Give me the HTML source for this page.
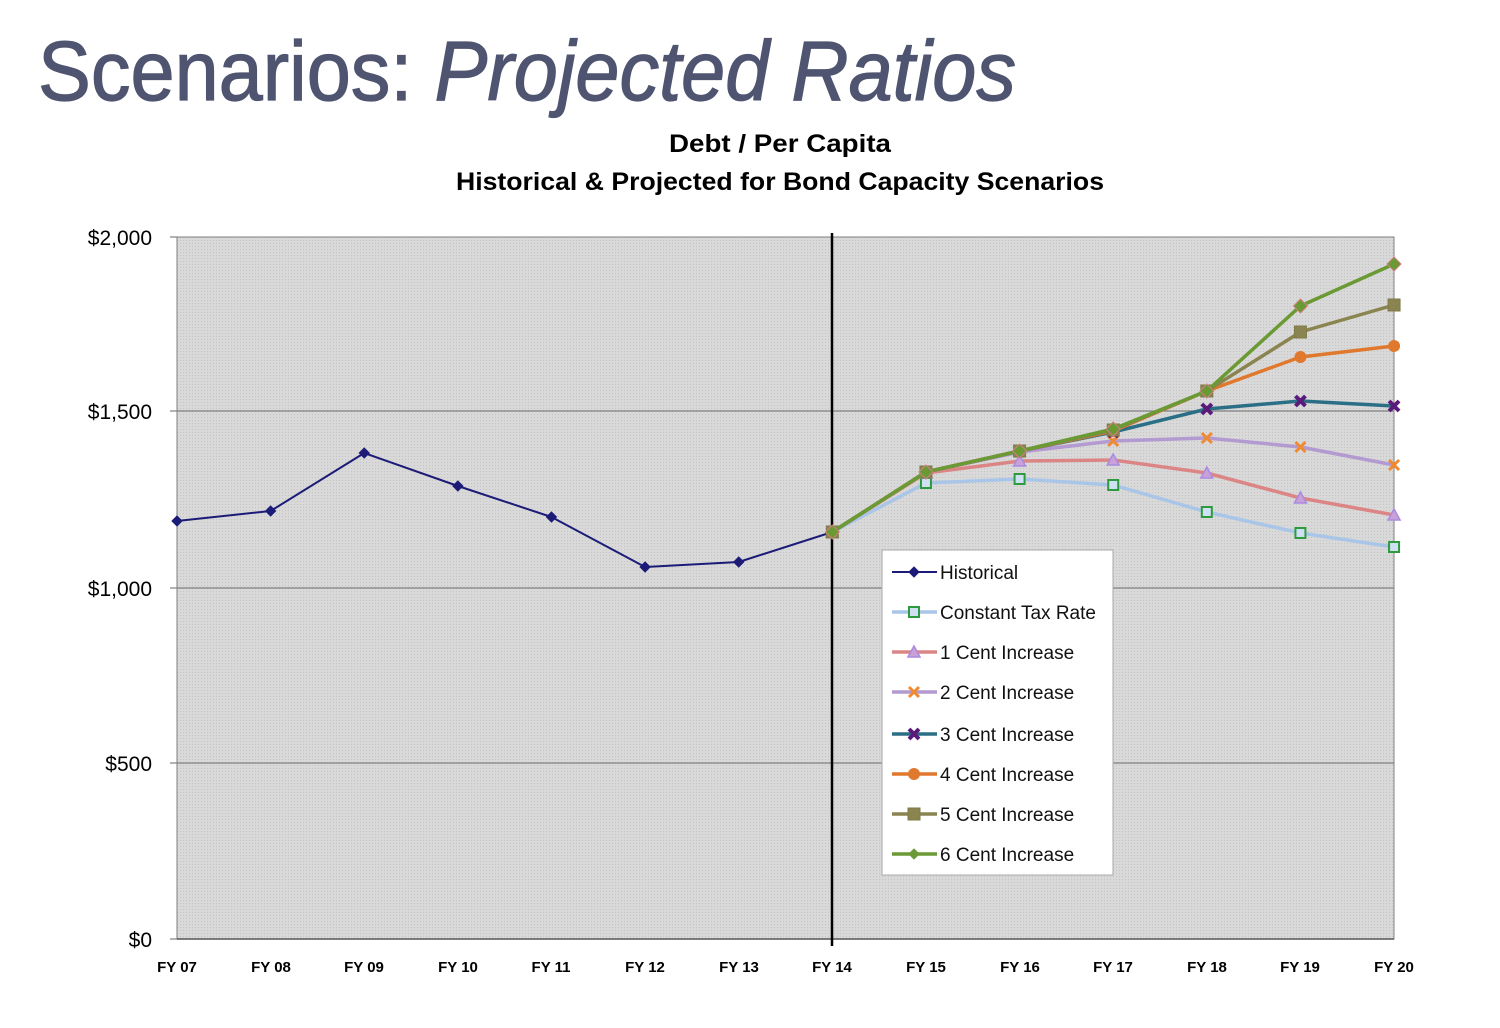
<!DOCTYPE html>
<html><head><meta charset="utf-8"><style>
html,body{margin:0;padding:0;background:#fff;width:1500px;height:1028px;overflow:hidden}
svg text{font-family:"Liberation Sans",sans-serif}
</style></head><body>
<svg id="s" width="1500" height="1028" viewBox="0 0 1500 1028" xmlns="http://www.w3.org/2000/svg">
<defs><pattern id="p" width="3" height="3" patternUnits="userSpaceOnUse"><rect width="3" height="3" fill="#d9d9d9"/><rect width="1" height="1" fill="#c4c4c4"/></pattern></defs>
<text x="38" y="100" font-size="84" fill="#4f5470" stroke="#4f5470" stroke-width="1.2" textLength="978" lengthAdjust="spacingAndGlyphs">Scenarios: <tspan font-style="italic">Projected Ratios</tspan></text>
<text x="780" y="152" font-size="25" font-weight="bold" text-anchor="middle" textLength="222" lengthAdjust="spacingAndGlyphs">Debt / Per Capita</text>
<text x="780" y="190" font-size="25" font-weight="bold" text-anchor="middle" textLength="648" lengthAdjust="spacingAndGlyphs">Historical &amp; Projected for Bond Capacity Scenarios</text>
<rect x="177" y="237" width="1217" height="702" fill="url(#p)" stroke="#808080"/>
<g stroke="#808080" stroke-width="1.2">
<line x1="177" y1="411" x2="1394" y2="411"/><line x1="177" y1="588" x2="1394" y2="588"/><line x1="177" y1="763" x2="1394" y2="763"/>
<line x1="170" y1="237" x2="177" y2="237"/><line x1="170" y1="411" x2="177" y2="411"/><line x1="170" y1="588" x2="177" y2="588"/><line x1="170" y1="763" x2="177" y2="763"/><line x1="170" y1="939" x2="177" y2="939"/>
</g>
<line x1="177" y1="939" x2="1394" y2="939" stroke="#555" stroke-width="1.5"/>
<line x1="832" y1="233" x2="832" y2="946" stroke="#000" stroke-width="2.5"/>
<g font-size="21" text-anchor="end">
<text x="152" y="245">$2,000</text><text x="152" y="419">$1,500</text><text x="152" y="596">$1,000</text><text x="152" y="771">$500</text><text x="152" y="947">$0</text>
</g>
<g font-size="15" font-weight="bold" text-anchor="middle">
<text x="177" y="972">FY 07</text><text x="271" y="972">FY 08</text><text x="364" y="972">FY 09</text><text x="458" y="972">FY 10</text><text x="551" y="972">FY 11</text><text x="645" y="972">FY 12</text><text x="739" y="972">FY 13</text><text x="832" y="972">FY 14</text><text x="926" y="972">FY 15</text><text x="1020" y="972">FY 16</text><text x="1113" y="972">FY 17</text><text x="1207" y="972">FY 18</text><text x="1300" y="972">FY 19</text><text x="1394" y="972">FY 20</text>
</g>
<g id="series"></g>
<rect x="882" y="550" width="231" height="325" fill="#fff" stroke="#aaa"/>
<g font-size="19" fill="#111">
<text x="940" y="579">Historical</text>
<text x="940" y="619">Constant Tax Rate</text>
<text x="940" y="659">1 Cent Increase</text>
<text x="940" y="699">2 Cent Increase</text>
<text x="940" y="741">3 Cent Increase</text>
<text x="940" y="781">4 Cent Increase</text>
<text x="940" y="821">5 Cent Increase</text>
<text x="940" y="861">6 Cent Increase</text>
</g>
<g id="leg"></g>
</svg>
<script>
var X=[];for(var i=0;i<14;i++)X.push(177+i*93.62);
var S=[
 {c:"#1c1c78",w:2,m:"d",mc:"#1c1c78",s:0,y:[521,511,453,486,517,567,562,532]},
 {c:"#a9c6e8",w:3.5,m:"sq",mc:"#2e9a3e",s:7,y:[532,483,479,485,512,533,547]},
 {c:"#dc8585",w:3.5,m:"t",mc:"#a98be0",s:7,y:[532,473,461,460,473,498,515]},
 {c:"#b39ad0",w:3.5,m:"x",mc:"#f08a30",s:7,y:[532,472,452,441,438,447,465]},
 {c:"#2b6f86",w:3.5,m:"x2",mc:"#5a1a7a",s:7,y:[532,472,451,432,409,401,406]},
 {c:"#e0782e",w:3.5,m:"c",mc:"#e0782e",s:7,y:[532,472,451,431,391,357,346]},
 {c:"#8a8450",w:3.5,m:"sq2",mc:"#8a8450",s:7,y:[532,472,451,430,391,332,305]},
 {c:"#6b9a35",w:3.5,m:"d",mc:"#6b9a35",s:7,y:[532,472,451,429,391,306,264]}
];
var NS="http://www.w3.org/2000/svg";
function el(t,a,p){var e=document.createElementNS(NS,t);for(var k in a)e.setAttribute(k,a[k]);p.appendChild(e);return e;}
function mk(g,m,x,y,c,r){
 if(m=="d")el("polygon",{points:(x)+","+(y-r)+" "+(x+r)+","+y+" "+x+","+(y+r)+" "+(x-r)+","+y,fill:c,stroke:r>5?"#d08080":c,"stroke-width":1},g);
 else if(m=="sq")el("rect",{x:x-5,y:y-5,width:10,height:10,fill:"#cfe0f2",stroke:c,"stroke-width":2},g);
 else if(m=="sq2")el("rect",{x:x-6,y:y-6,width:12,height:12,fill:c,stroke:"#7f7a48"},g);
 else if(m=="t")el("polygon",{points:x+","+(y-6)+" "+(x+6)+","+(y+5)+" "+(x-6)+","+(y+5),fill:"#c9a0d8",stroke:c,"stroke-width":1.5},g);
 else if(m=="x"||m=="x2"){el("path",{d:"M"+(x-5)+" "+(y-5)+"L"+(x+5)+" "+(y+5)+"M"+(x+5)+" "+(y-5)+"L"+(x-5)+" "+(y+5),stroke:c,"stroke-width":m=="x2"?4:3},g);}
 else if(m=="c")el("circle",{cx:x,cy:y,r:6,fill:c},g);
}
var g=document.getElementById("series");
S.forEach(function(s){
 var off=(s===S[0])?0:7,pts=[];
 s.y.forEach(function(y,i){pts.push(X[i+off]+","+y);});
 el("polyline",{points:pts.join(" "),fill:"none",stroke:s.c,"stroke-width":s.w,"stroke-linejoin":"round"},g);
 s.y.forEach(function(y,i){mk(g,s.m,X[i+off],y,s.mc,s===S[0]?5:7);});
});
var L=document.getElementById("leg");
var ly=[572,612,652,692,734,774,814,854];
S.forEach(function(s,i){el("line",{x1:892,y1:ly[i],x2:937,y2:ly[i],stroke:s.c,"stroke-width":s.w},L);mk(L,s.m,914,ly[i],s.mc,5);});
</script>
</body></html>
